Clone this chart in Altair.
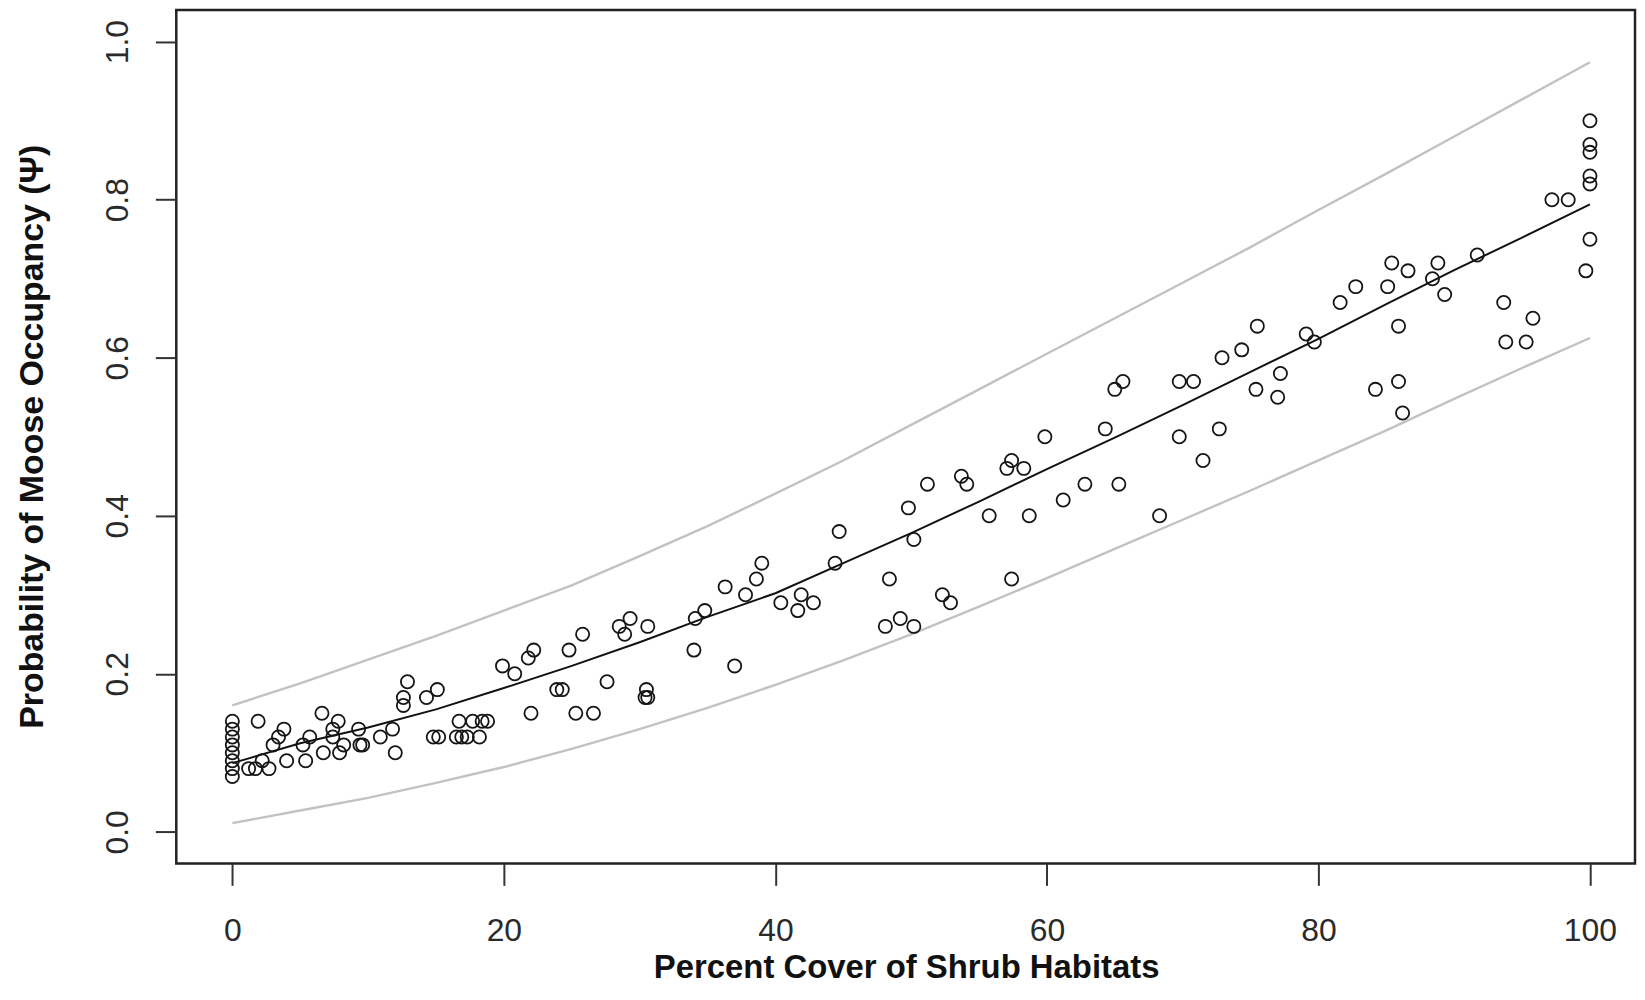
import altair as alt
import pandas as pd

# ---- observed site values (percent shrub cover, estimated occupancy) ----
shrub_cover = [
    0, 0, 0, 0, 0, 0, 0, 0,
    1.2, 1.7, 1.9, 2.2, 2.7, 3.0, 3.4, 3.8, 4.0, 5.2, 5.4, 5.7, 6.6, 6.7,
    7.4, 7.4, 7.8, 7.9, 8.2, 9.3, 9.4, 9.6, 10.9, 11.8, 12.0, 12.6, 12.6, 12.9,
    14.3, 15.1, 14.8, 15.2, 16.5, 16.7, 16.9, 17.3, 17.7, 18.2, 18.4, 18.8,
    19.9, 20.8, 22.0, 21.8, 22.2, 23.9, 24.3, 24.8, 25.3, 25.8, 26.6, 27.6,
    28.5, 29.3, 28.9, 30.6, 30.4, 30.6, 30.5,
    34.1, 34.0, 34.8, 36.3, 37.0, 37.8, 38.6, 39.0,
    40.4, 41.65, 41.9, 42.8, 44.4, 44.7, 48.4, 48.1, 49.2, 50.2, 49.8, 50.2,
    51.2, 52.3, 52.9, 53.7, 54.1, 55.75, 57.05, 57.4, 58.3, 57.4, 58.7, 59.85,
    61.2, 62.8, 64.3, 65.0, 65.6, 65.3, 68.3, 69.75, 70.8, 69.75, 71.5, 72.7,
    72.9, 74.35, 75.5, 75.4, 77.2, 77.0, 79.1, 79.7,
    81.6, 82.75, 84.2, 85.1, 85.4, 86.6, 85.9, 85.9, 86.2, 88.4, 88.8, 89.3,
    91.7, 93.65, 93.8, 95.3, 95.8, 97.2, 98.4,
    100, 100, 100, 100, 100, 100, 99.7,
]
occupancy = [
    0.14, 0.13, 0.12, 0.11, 0.10, 0.09, 0.08, 0.07,
    0.08, 0.08, 0.14, 0.09, 0.08, 0.11, 0.12, 0.13, 0.09, 0.11, 0.09, 0.12, 0.15, 0.10,
    0.13, 0.12, 0.14, 0.10, 0.11, 0.13, 0.11, 0.11, 0.12, 0.13, 0.10, 0.16, 0.17, 0.19,
    0.17, 0.18, 0.12, 0.12, 0.12, 0.14, 0.12, 0.12, 0.14, 0.12, 0.14, 0.14,
    0.21, 0.20, 0.15, 0.22, 0.23, 0.18, 0.18, 0.23, 0.15, 0.25, 0.15, 0.19,
    0.26, 0.27, 0.25, 0.26, 0.17, 0.17, 0.18,
    0.27, 0.23, 0.28, 0.31, 0.21, 0.30, 0.32, 0.34,
    0.29, 0.28, 0.30, 0.29, 0.34, 0.38, 0.32, 0.26, 0.27, 0.26, 0.41, 0.37,
    0.44, 0.30, 0.29, 0.45, 0.44, 0.40, 0.46, 0.47, 0.46, 0.32, 0.40, 0.50,
    0.42, 0.44, 0.51, 0.56, 0.57, 0.44, 0.40, 0.57, 0.57, 0.50, 0.47, 0.51,
    0.60, 0.61, 0.64, 0.56, 0.58, 0.55, 0.63, 0.62,
    0.67, 0.69, 0.56, 0.69, 0.72, 0.71, 0.64, 0.57, 0.53, 0.70, 0.72, 0.68,
    0.73, 0.67, 0.62, 0.62, 0.65, 0.80, 0.80,
    0.90, 0.87, 0.86, 0.83, 0.82, 0.75, 0.71,
]

# ---- fitted curve and confidence limits read at every 5 % cover ----
curve_cover = [0, 5, 10, 15, 20, 25, 30, 35, 40, 45, 50,
               55, 60, 65, 70, 75, 80, 85, 90, 95, 100]
fit = [0.087, 0.112, 0.132, 0.155, 0.182, 0.210, 0.240, 0.272, 0.302, 0.340, 0.378,
       0.418, 0.459, 0.499, 0.540, 0.582, 0.624, 0.668, 0.711, 0.752, 0.794]
upper = [0.160, 0.188, 0.218, 0.248, 0.280, 0.312, 0.349, 0.387, 0.428, 0.470, 0.515,
         0.560, 0.605, 0.650, 0.695, 0.740, 0.787, 0.833, 0.880, 0.927, 0.974]
lower = [0.011, 0.027, 0.043, 0.062, 0.082, 0.105, 0.130, 0.157, 0.186, 0.217, 0.250,
         0.285, 0.321, 0.358, 0.395, 0.432, 0.470, 0.508, 0.548, 0.587, 0.625]

x_ticks = [0, 20, 40, 60, 80, 100]
y_ticks = [0.0, 0.2, 0.4, 0.6, 0.8, 1.0]

points = pd.DataFrame({"cover": shrub_cover, "psi": occupancy})
fit_df = pd.DataFrame({"cover": curve_cover, "psi": fit})
ci_df = pd.DataFrame({
    "cover": curve_cover * 2,
    "psi": upper + lower,
    "band": ["upper"] * len(curve_cover) + ["lower"] * len(curve_cover),
})

FONT = "Liberation Sans"

x_enc = alt.X(
    "cover:Q",
    scale=alt.Scale(domain=[-4.13, 103.32], nice=False, zero=False),
    axis=alt.Axis(
        values=x_ticks, format="d", grid=False, domain=False,
        tickSize=22, tickWidth=2, tickColor="#333333",
        labelFont=FONT, labelFontSize=32, labelColor="#2a2a2a",
        labelPadding=30, labelAngle=0, labelFlush=False, labelBaseline="top",
        title="Percent Cover of Shrub Habitats",
        titleFont=FONT, titleFontSize=33, titleFontWeight="bold", titleColor="#111111",
        titleX=733, titleY=115, titleAlign="center", titleBaseline="alphabetic",
    ),
)
y_enc = alt.Y(
    "psi:Q",
    scale=alt.Scale(domain=[-0.04, 1.04], nice=False, zero=False),
    axis=alt.Axis(
        values=y_ticks, format=".1f", grid=False, domain=False,
        tickSize=21, tickWidth=2, tickColor="#333333",
        labelFont=FONT, labelFontSize=32, labelColor="#2a2a2a",
        labelPadding=28, labelAngle=270, labelAlign="center",
        labelBaseline="alphabetic", labelFlush=False,
        title="Probability of Moose Occupancy (Ψ)",
        titleFont=FONT, titleFontSize=34, titleFontWeight="bold", titleColor="#111111",
        titleX=-134, titleY=428, titleAngle=270, titleAlign="center",
        titleBaseline="alphabetic",
    ),
)

ci_layer = alt.Chart(ci_df).mark_line(color="#c2c2c2", strokeWidth=2.4).encode(
    x=x_enc, y=y_enc, detail="band:N", order="cover:Q"
)
fit_layer = alt.Chart(fit_df).mark_line(color="#111111", strokeWidth=2.0).encode(
    x=x_enc, y=y_enc, order="cover:Q"
)
pt_layer = alt.Chart(points).mark_point(
    shape="circle", filled=False, size=175, strokeWidth=1.8,
    color="#151515", opacity=1,
).encode(x=x_enc, y=y_enc)

chart = (
    alt.layer(ci_layer, fit_layer, pt_layer)
    .properties(
        width=1465,
        height=857,
        autosize=alt.AutoSizeParams(type="none"),
        padding={"left": 169, "top": 0, "right": 2, "bottom": 123},
        background="white",
    )
    .configure_view(stroke="#222222", strokeWidth=2.5)
)

chart.save("out.html", embed_options={"renderer": "svg", "actions": False})
